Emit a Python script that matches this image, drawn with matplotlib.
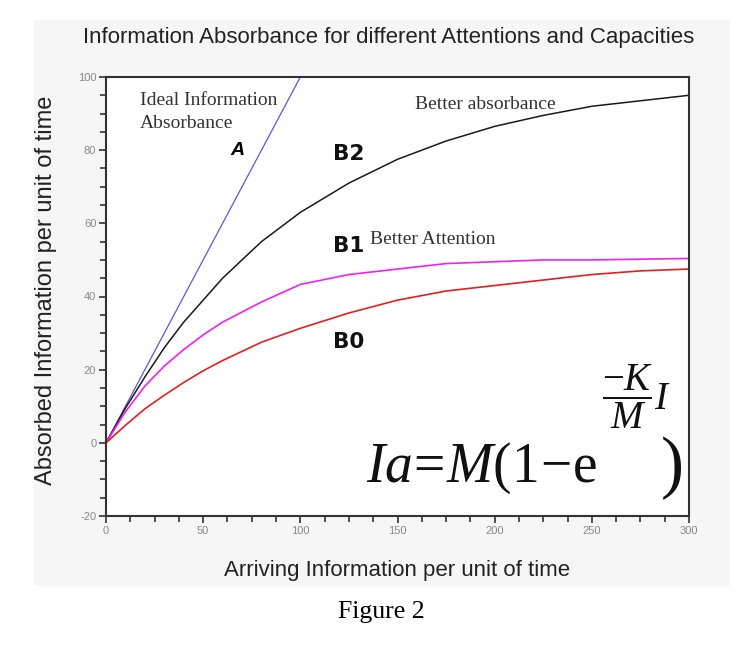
import matplotlib
matplotlib.use('Agg')
import matplotlib.pyplot as plt
from matplotlib.patches import Rectangle
from matplotlib.ticker import MultipleLocator

# values
x_ideal = [0, 100]
y_ideal = [0, 100]

x_vals = [0, 10, 20, 30, 40, 50, 60, 80, 100, 125, 150, 175, 200, 225, 250, 275, 300]
b2_vals = [0, 9.5, 18, 26, 33, 39, 45, 55, 63, 71, 77.5, 82.5, 86.5, 89.5, 92, 93.5, 95]
b1_vals = [0, 8.5, 15.5, 21, 25.5, 29.5, 33, 38.5, 43.3, 46, 47.5, 49, 49.5, 50, 50, 50.2, 50.4]
b0_vals = [0, 4.8, 9.3, 13, 16.5, 19.7, 22.5, 27.5, 31.3, 35.5, 39, 41.5, 43, 44.5, 46, 47, 47.5]

plt.rcParams['font.family'] = ['Liberation Sans', 'DejaVu Sans']
plt.rcParams['axes.unicode_minus'] = False
plt.rcParams['mathtext.fontset'] = 'custom'
plt.rcParams['mathtext.rm'] = 'Liberation Serif'
plt.rcParams['mathtext.it'] = 'Liberation Serif:italic'

fig = plt.figure(figsize=(7.51, 6.46), dpi=100)
fig.patch.set_facecolor('white')
# light grey panel behind the plot image
fig.patches.append(Rectangle((34 / 751, 1 - 586 / 646), 696 / 751, 566 / 646,
                             transform=fig.transFigure, facecolor='#f6f6f6',
                             edgecolor='none', zorder=-10))

ax = fig.add_axes([106 / 751, 1 - 516 / 646, 583 / 751, 439 / 646])
ax.set_facecolor('white')

ax.plot(x_ideal, y_ideal, color='#5a5ad0', lw=0.9)
ax.plot(x_vals, b2_vals, color='#1a1a1a', lw=1.1)
ax.plot(x_vals, b1_vals, color='#ee22ee', lw=1.2)
ax.plot(x_vals, b0_vals, color='#e02020', lw=1.2)

ax.set_xlim(0, 300)
ax.set_ylim(-20, 100)
ax.xaxis.set_major_locator(MultipleLocator(50))
ax.xaxis.set_minor_locator(MultipleLocator(12.5))
ax.yaxis.set_major_locator(MultipleLocator(20))
ax.yaxis.set_minor_locator(MultipleLocator(5))
ax.tick_params(which='both', direction='out', color='#333333', width=1.2,
               labelsize=8, labelcolor='#888888', pad=2)
ax.tick_params(which='major', length=5)
ax.tick_params(which='minor', length=4)
for s in ax.spines.values():
    s.set_color('#333333')
    s.set_linewidth(1.5)

serif = ['Liberation Serif', 'DejaVu Serif']
ax.text(17.5, 95.8, 'Ideal Information\nAbsorbance', family=serif, fontsize=14,
        color='#333333', ha='left', va='top', linespacing=1.45)
ax.text(67.4, 80, 'A', fontsize=14, fontweight='bold', style='italic',
        ha='center', va='center')
ax.text(116.8, 79, 'B2', family='DejaVu Sans', fontsize=15.5, fontweight='bold',
        ha='left', va='center', color='#111111')
ax.text(159, 92.6, 'Better absorbance', family=serif, fontsize=14,
        color='#333333', ha='left', va='center')
ax.text(116.8, 53.8, 'B1', family='DejaVu Sans', fontsize=15.5, fontweight='bold',
        ha='left', va='center', color='#111111')
ax.text(135.9, 55.5, 'Better Attention', family=serif, fontsize=14,
        color='#333333', ha='left', va='center')
ax.text(116.8, 27.6, 'B0', family='DejaVu Sans', fontsize=15.5, fontweight='bold',
        ha='left', va='center', color='#111111')

# formula, in three pieces so the exponent sits high as in the original
ax.text(134, -10.7, r'$Ia\!=\!M(1\!-\!\mathrm{e}$', fontsize=40,
        ha='left', va='baseline', color='#111111')
ax.text(255, 12.6, r'$\dfrac{-K}{M}I$', fontsize=28,
        ha='left', va='center', color='#111111')
ax.text(285, -11.5, r'$)$', fontsize=50,
        ha='left', va='baseline', color='#111111')

fig.text(389 / 751, 1 - 37 / 646, 'Information Absorbance for different Attentions and Capacities',
         fontsize=16, ha='center', va='center', color='#222222')
ax.set_xlabel('Arriving Information per unit of time', fontsize=16, color='#222222')
ax.xaxis.set_label_coords(0.5, -0.1)
ax.set_ylabel('Absorbed Information per unit of time', fontsize=17, color='#222222')
ax.yaxis.set_label_coords(-0.084, 0.515)

fig.text(381 / 751, 1 - 612 / 646, 'Figure 2', family=serif, fontsize=18.5,
         ha='center', va='center', color='black')

fig.savefig('out.png', dpi=100)
